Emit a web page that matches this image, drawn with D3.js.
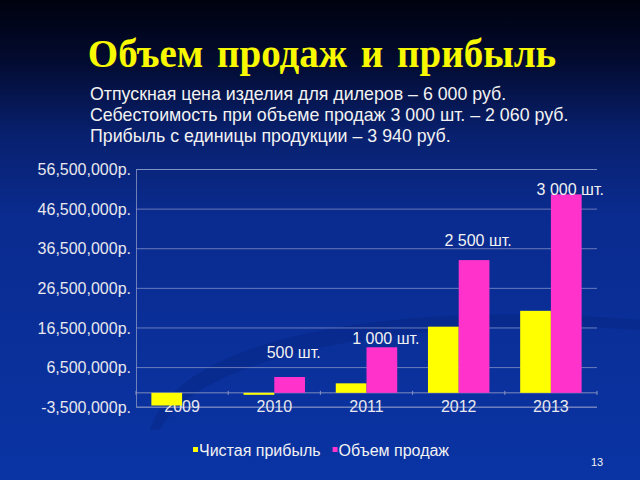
<!DOCTYPE html>
<html>
<head>
<meta charset="utf-8">
<script src="https://cdn.jsdelivr.net/npm/d3@7"></script>
<style>
html,body{margin:0;padding:0;background:#000;}
svg{display:block;}
</style>
</head>
<body>
<svg id="c" width="640" height="480"></svg>
<script>
// ---- data ----
const years = ["2009", "2010", "2011", "2012", "2013"];
const seriesNames = ["Чистая прибыль", "Объем продаж"];
const profit = [-3200000, -500000, 2400000, 16700000, 20700000];
const sales = [0, 4000000, 11500000, 33500000, 50100000];
const unitLabels = [null, "500 шт.", "1 000 шт.", "2 500 шт.", "3 000 шт."];
const unitLabelLevels = [null, 8800000, 12300000, 37100000, 49900000];
const yTicks = [-3500000, 6500000, 16500000, 26500000, 36500000, 46500000, 56500000];
const titleText = "Объем продаж и прибыль";
const subtitleLines = [
  "Отпускная цена изделия для дилеров – 6 000 руб.",
  "Себестоимость при объеме продаж 3 000 шт. – 2 060 руб.",
  "Прибыль с единицы продукции – 3 940 руб."
];
const pageNumber = "13";
const colors = ["#ffff00", "#ff33cc"];

// ---- drawing ----
(function () {
const svg = d3.select("#c");
const defs = svg.append("defs");
const bg = defs.append("linearGradient").attr("id", "bg").attr("x1", 0).attr("y1", 0).attr("x2", 0).attr("y2", 1);
[[0, "#00020e"], [0.12, "#020a2e"], [0.28, "#08206e"], [0.45, "#0a2b8f"], [1, "#0a34a4"]]
  .forEach(([o, c]) => bg.append("stop").attr("offset", o).attr("stop-color", c));
svg.append("rect").attr("width", 640).attr("height", 480).attr("fill", "url(#bg)");

// faint swoosh
svg.append("path")
  .attr("d", "M150,430 C180,330 420,300 640,320 L640,330 C430,315 200,350 160,430 Z")
  .attr("fill", "#06227a").attr("opacity", 0.35);

const font = "'Liberation Sans', Arial, sans-serif";

svg.append("text").attr("x", 322).attr("y", 67).attr("text-anchor", "middle")
  .attr("font-family", "'Liberation Serif', 'Times New Roman', serif")
  .attr("font-weight", "bold").attr("font-size", 39).attr("word-spacing", 4)
  .attr("fill", "#f8f800").text(titleText);

svg.selectAll("text.sub").data(subtitleLines).join("text").attr("class", "sub")
  .attr("x", 90).attr("y", (d, i) => 100 + i * 21)
  .attr("font-family", font).attr("font-size", 17.8).attr("fill", "#f2f2f2").text(d => d);

const pL = 136, pR = 597, pT = 169, pB = 406.7;
const y = d3.scaleLinear().domain([yTicks[0], yTicks[yTicks.length - 1]]).range([pB, pT]);
const x = d3.scaleBand().domain(years).range([pL, pR]).paddingInner(0).paddingOuter(0);
const bw = x.bandwidth();
const x1 = d3.scaleBand().domain(seriesNames).range([bw / 6, bw * 5 / 6]).padding(0);

const fmt = v => (v < 0 ? "-" : "") + d3.format(",")(Math.abs(v)) + "р.";

// gridlines + y axis
const yAxis = d3.axisLeft(y).tickValues(yTicks).tickFormat(fmt).tickSize(-(pR - pL)).tickPadding(5);
const gy = svg.append("g").attr("transform", `translate(${pL},0)`).call(yAxis);
gy.select(".domain").attr("stroke", "#8a96c0").attr("stroke-opacity", 0.8);
gy.selectAll(".tick line").attr("stroke", "#8a96c8").attr("stroke-opacity", 0.75).attr("stroke-width", 1);
gy.selectAll(".tick text").attr("font-family", font).attr("font-size", 16).attr("fill", "#e8e8ee").attr("dy", "0.35em");

// x axis labels (behind bars)
const xAxis = d3.axisBottom(x).tickSize(0).tickPadding(0);
const gx = svg.append("g").attr("transform", `translate(0,${y(0)})`).call(xAxis);
gx.select(".domain").remove();
gx.selectAll(".tick text").attr("font-family", font).attr("font-size", 16).attr("fill", "#e8e8ee")
  .attr("y", 19).attr("dy", 0);

// zero axis line with ticks at category boundaries
svg.append("line").attr("x1", pL).attr("x2", pR).attr("y1", y(0)).attr("y2", y(0))
  .attr("stroke", "#8a96c0").attr("stroke-opacity", 0.9);
svg.selectAll("line.bt").data(years.map(d => x(d)).concat([pR])).join("line").attr("class", "bt")
  .attr("x1", d => d).attr("x2", d => d).attr("y1", y(0) - 2).attr("y2", y(0) + 2)
  .attr("stroke", "#8a96c0");

// bars
const rows = years.map((yr, i) => ({ yr, vals: [profit[i], sales[i]] }));
const grp = svg.append("g").selectAll("g").data(rows).join("g")
  .attr("transform", d => `translate(${x(d.yr)},0)`);
grp.selectAll("rect").data(d => d.vals.map((v, k) => ({ v, k }))).join("rect")
  .attr("x", d => x1(seriesNames[d.k]))
  .attr("width", x1.bandwidth())
  .attr("y", d => y(Math.max(0, d.v)))
  .attr("height", d => Math.max(Math.abs(y(d.v) - y(0)), d.v !== 0 ? 1.5 : 0))
  .attr("fill", d => colors[d.k]);

// unit annotations
svg.selectAll("text.ul").data(years.map((yr, i) => ({ yr, t: unitLabels[i], lv: unitLabelLevels[i] })).filter(d => d.t))
  .join("text").attr("class", "ul")
  .attr("x", d => x(d.yr) + x1(seriesNames[1]) + x1.bandwidth() / 2 + 4)
  .attr("y", d => y(d.lv)).attr("text-anchor", "middle")
  .attr("font-family", font).attr("font-size", 16).attr("fill", "#f2f2f2").text(d => d.t);

// legend
const lg = svg.append("g").attr("transform", "translate(193,456)");
let lx = 0;
seriesNames.forEach((n, i) => {
  lg.append("rect").attr("x", lx).attr("y", -9).attr("width", 5).attr("height", 5).attr("fill", colors[i]);
  const t = lg.append("text").attr("x", lx + 6).attr("y", 0).attr("font-family", font).attr("font-size", 16)
    .attr("fill", "#f2f2f2").text(n);
  lx += 6 + t.node().getComputedTextLength() + 12;
});

svg.append("text").attr("x", 597).attr("y", 466).attr("text-anchor", "middle")
  .attr("font-family", font).attr("font-size", 11).attr("fill", "#f2f2f2").text(pageNumber);
})();
</script>
</body>
</html>
